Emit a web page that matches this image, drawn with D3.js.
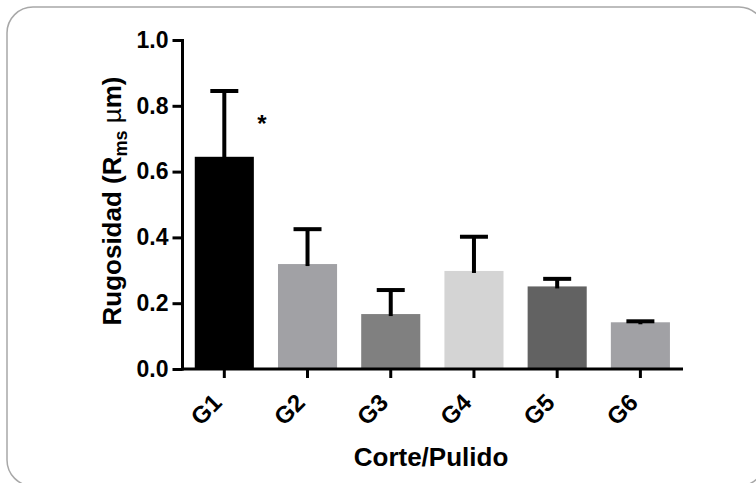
<!DOCTYPE html>
<html>
<head>
<meta charset="utf-8">
<script src="https://d3js.org/d3.v7.min.js"></script>
<style>
  body { margin: 0; background: #fff; }
  .chart text { font-family: "Liberation Sans", Arial, sans-serif; font-weight: bold; fill: #000; }
</style>
</head>
<body>
<div class="chart"></div>
<script>
// data
var groups = ["G1", "G2", "G3", "G4", "G5", "G6"];
var means = [0.645, 0.319, 0.167, 0.298, 0.251, 0.142];
var errTops = [0.845, 0.425, 0.240, 0.402, 0.274, 0.145];
var barColors = ["#000000", "#a1a1a5", "#808080", "#d4d4d4", "#626262", "#a1a1a5"];
var marks = ["*", "", "", "", "", ""];
var yTicks = [0.0, 0.2, 0.4, 0.6, 0.8, 1.0];

var svgWidth = 756;
var svgHeight = 483;

var svg = d3.select(".chart")
  .append("svg")
  .attr("width", svgWidth)
  .attr("height", svgHeight);

// rounded frame round the figure
svg.append("rect")
  .attr("x", 7)
  .attr("y", 7)
  .attr("width", 758)
  .attr("height", 479)
  .attr("rx", 26)
  .attr("ry", 26)
  .attr("fill", "#fff")
  .attr("stroke", "#a8a8a8")
  .attr("stroke-width", 1.5);

// scales
var xScale = d3.scaleBand()
  .domain(groups)
  .range([182.7, 682])
  .paddingInner(0.29)
  .paddingOuter(0.145);

var yScale = d3.scaleLinear()
  .domain([0, 1])
  .range([369, 40]);

// bars
svg.selectAll(".bar")
  .data(groups)
  .enter()
  .append("rect")
  .attr("class", "bar")
  .attr("x", d => xScale(d))
  .attr("y", (d, i) => yScale(means[i]))
  .attr("width", xScale.bandwidth())
  .attr("height", (d, i) => yScale(0) - yScale(means[i]))
  .attr("fill", (d, i) => barColors[i]);

// error bars (upper half only)
var errGroup = svg.append("g")
  .attr("stroke", "#000")
  .attr("stroke-width", 4);

errGroup.selectAll(".err-stem")
  .data(groups)
  .enter()
  .append("line")
  .attr("x1", d => xScale(d) + xScale.bandwidth() / 2)
  .attr("x2", d => xScale(d) + xScale.bandwidth() / 2)
  .attr("y1", (d, i) => yScale(means[i]) + 2)
  .attr("y2", (d, i) => yScale(errTops[i]));

errGroup.selectAll(".err-cap")
  .data(groups)
  .enter()
  .append("line")
  .attr("x1", d => xScale(d) + xScale.bandwidth() / 2 - 14)
  .attr("x2", d => xScale(d) + xScale.bandwidth() / 2 + 14)
  .attr("y1", (d, i) => yScale(errTops[i]))
  .attr("y2", (d, i) => yScale(errTops[i]));

// significance marks
svg.selectAll(".mark")
  .data(groups)
  .enter()
  .append("text")
  .attr("x", d => xScale(d) + xScale.bandwidth() + 8)
  .attr("y", (d, i) => yScale(errTops[i]) + 41)
  .attr("text-anchor", "middle")
  .style("font-size", "24px")
  .text((d, i) => marks[i]);

// y axis
var leftAxis = d3.axisLeft(yScale)
  .tickValues(yTicks)
  .tickFormat(d3.format(".1f"))
  .tickSize(10)
  .tickSizeOuter(0)
  .tickPadding(4);

var yAxis = svg.append("g")
  .attr("transform", "translate(182.5, 0)")
  .call(leftAxis);

yAxis.select(".domain")
  .attr("stroke-width", 3)
  .attr("d", "M0," + (yScale(0) + 1.5) + "V" + (yScale(1) - 1));
yAxis.selectAll(".tick line").attr("stroke-width", 3);
yAxis.selectAll(".tick text")
  .style("font-size", "23px")
  .style("font-family", "'Liberation Sans', Arial, sans-serif")
  .style("font-weight", "bold");

// x axis
var bottomAxis = d3.axisBottom(xScale)
  .tickSize(9)
  .tickSizeOuter(0)
  .tickPadding(0);

var xAxis = svg.append("g")
  .attr("transform", "translate(0, " + yScale(0) + ")")
  .call(bottomAxis);

xAxis.select(".domain")
  .attr("stroke-width", 3)
  .attr("d", "M181,0H683");
xAxis.selectAll(".tick line").attr("stroke-width", 3);
xAxis.selectAll(".tick text")
  .attr("text-anchor", "end")
  .attr("y", 0)
  .attr("dy", 0)
  .attr("transform", "translate(-1, 35) rotate(-45)")
  .style("font-size", "24px")
  .style("font-family", "'Liberation Sans', Arial, sans-serif")
  .style("font-weight", "bold");

// y axis title with subscript
var yTitle = svg.append("text")
  .attr("transform", "rotate(-90)")
  .attr("x", -201)
  .attr("y", 121)
  .attr("text-anchor", "middle")
  .style("font-size", "26px");

yTitle.append("tspan").text("Rugosidad (R");
yTitle.append("tspan")
  .attr("dy", 6)
  .style("font-size", "18px")
  .text("ms");
yTitle.append("tspan")
  .attr("dy", -6)
  .text(" ");
yTitle.append("tspan")
  .style("font-weight", "normal")
  .text("\u00b5");
yTitle.append("tspan").text("m)");

// x axis title
svg.append("text")
  .attr("x", 431)
  .attr("y", 466)
  .attr("text-anchor", "middle")
  .style("font-size", "26px")
  .text("Corte/Pulido");
</script>
</body>
</html>
